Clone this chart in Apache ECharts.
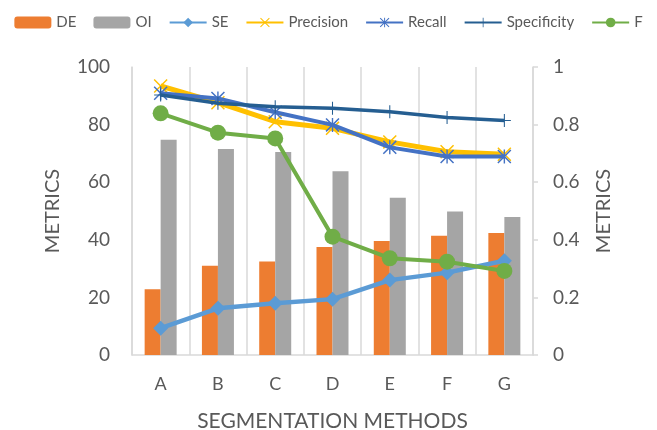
<!DOCTYPE html>
<html>
<head>
<meta charset="utf-8">
<script src="https://cdn.jsdelivr.net/npm/echarts@6/dist/echarts.min.js"></script>
<style>
  html, body { margin: 0; padding: 0; background: #fff; }
  #chart { width: 657px; height: 430px; }
</style>
</head>
<body>
<div id="chart"></div>
<script>
// Segmentation methods compared on two bar metrics (left axis, 0-100)
// and five ratio metrics (right axis, 0-1).
const methods = ['A', 'B', 'C', 'D', 'E', 'F', 'G'];
const leftTicks = [0, 20, 40, 60, 80, 100];
const rightTicks = [0, 0.2, 0.4, 0.6, 0.8, 1];

const deValues = [22.8, 31.0, 32.5, 37.5, 39.6, 41.4, 42.4];
const oiValues = [74.7, 71.5, 70.5, 63.8, 54.6, 49.8, 47.9];

const seValues          = [0.093, 0.162, 0.180, 0.194, 0.260, 0.286, 0.327];
const precisionValues   = [0.934, 0.876, 0.810, 0.787, 0.740, 0.706, 0.697];
const recallValues      = [0.909, 0.891, 0.843, 0.799, 0.721, 0.689, 0.689];
const specificityValues = [0.903, 0.874, 0.862, 0.857, 0.845, 0.825, 0.814];
const fValues           = [0.839, 0.772, 0.752, 0.411, 0.336, 0.324, 0.292];

// Marker shapes drawn as filled thin bars
const crossX = 'path://M0,1.5 L1.5,0 L20,18.5 L18.5,20 Z M18.5,0 L20,1.5 L1.5,20 L0,18.5 Z';
const plusMark = 'path://M9.2,0 L10.8,0 L10.8,20 L9.2,20 Z M0,9.2 L20,9.2 L20,10.8 L0,10.8 Z';
const starMark = 'path://M0,1.5 L1.5,0 L20,18.5 L18.5,20 Z M18.5,0 L20,1.5 L1.5,20 L0,18.5 Z M9,0 L11,0 L11,20 L9,20 Z';

const FONT = 'Lato, "Open Sans", sans-serif';
const TEXT = '#595959';
const GRID = '#D9D9D9';

function lineSeries(name, data, color, symbol, size, width, z) {
  return {
    name: name,
    type: 'line',
    yAxisIndex: 1,
    data: data,
    symbol: symbol,
    symbolSize: size,
    z: z,
    lineStyle: { color: color, width: width },
    itemStyle: { color: color, borderWidth: 0 },
    emphasis: { disabled: true }
  };
}

const chart = echarts.init(document.getElementById('chart'), null, { renderer: 'canvas' });
chart.setOption({
  animation: false,
  textStyle: { fontFamily: FONT },
  legend: {
    top: 10,
    left: 'center',
    itemWidth: 37,
    itemHeight: 12,
    itemGap: 17,
    textStyle: { color: TEXT, fontSize: 15, fontFamily: FONT },
    data: ['DE', 'OI', 'SE', 'Precision', 'Recall', 'Specificity', 'F']
  },
  grid: { left: 132, right: 124, top: 67, bottom: 75, containLabel: false, outerBoundsMode: 'none' },
  xAxis: {
    type: 'category',
    data: methods,
    boundaryGap: true,
    name: 'SEGMENTATION METHODS',
    nameLocation: 'middle',
    nameGap: 56,
    nameTextStyle: { color: TEXT, fontSize: 21, fontFamily: FONT },
    axisLine: { lineStyle: { color: GRID, width: 1.5 } },
    axisTick: { show: false },
    axisLabel: { color: TEXT, fontSize: 18, margin: 20, fontFamily: FONT },
    splitLine: { show: true, lineStyle: { color: GRID, width: 1.5 } }
  },
  yAxis: [
    {
      type: 'value',
      min: leftTicks[0],
      max: leftTicks[leftTicks.length - 1],
      interval: 20,
      name: 'METRICS',
      nameLocation: 'middle',
      nameRotate: 90,
      nameGap: 69,
      nameTextStyle: { color: TEXT, fontSize: 20, fontFamily: FONT },
      axisLine: { show: true, lineStyle: { color: GRID, width: 1.5 } },
      axisTick: { show: false },
      axisLabel: { color: TEXT, fontSize: 19, margin: 22, fontFamily: FONT },
      splitLine: { show: false }
    },
    {
      type: 'value',
      position: 'right',
      min: rightTicks[0],
      max: rightTicks[rightTicks.length - 1],
      interval: 0.2,
      name: 'METRICS',
      nameLocation: 'middle',
      nameRotate: 90,
      nameGap: 61,
      nameTextStyle: { color: TEXT, fontSize: 20, fontFamily: FONT },
      axisLine: { show: true, lineStyle: { color: GRID, width: 1.5 } },
      axisTick: { show: true, inside: false, length: 5, lineStyle: { color: GRID, width: 1.5 } },
      axisLabel: { color: TEXT, fontSize: 19, margin: 20, fontFamily: FONT },
      splitLine: { show: false }
    }
  ],
  series: [
    {
      name: 'DE', type: 'bar', yAxisIndex: 0, data: deValues,
      barWidth: 16, barGap: '0%',
      itemStyle: { color: '#ED7D31' }, emphasis: { disabled: true }, z: 2
    },
    {
      name: 'OI', type: 'bar', yAxisIndex: 0, data: oiValues,
      barWidth: 16, barGap: '0%',
      itemStyle: { color: '#A5A5A5' }, emphasis: { disabled: true }, z: 2
    },
    lineSeries('SE', seValues, '#5B9BD5', 'diamond', 15, 4.5, 3),
    lineSeries('Precision', precisionValues, '#FFC000', crossX, 14, 5, 4),
    lineSeries('Recall', recallValues, '#4472C4', starMark, 14, 4, 5),
    lineSeries('Specificity', specificityValues, '#255E91', plusMark, 13, 3.5, 6),
    lineSeries('F', fValues, '#70AD47', 'circle', 16, 4, 7)
  ]
});
</script>
</body>
</html>
